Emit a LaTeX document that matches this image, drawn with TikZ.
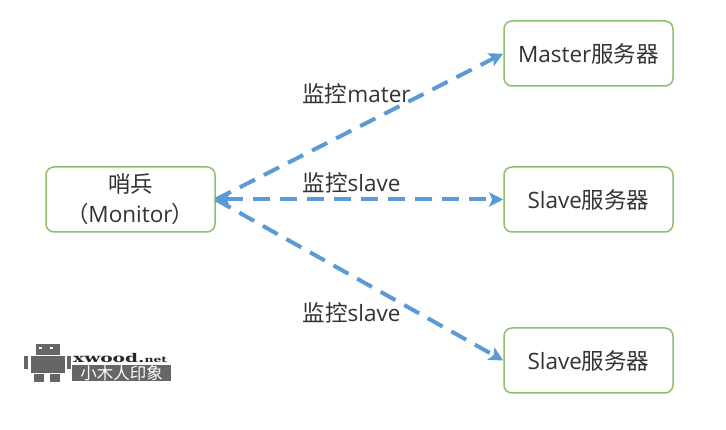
\documentclass[tikz,border=0pt]{standalone}
\usepackage{fontspec}
\setmainfont{Open Sans}
\newfontfamily\cjk{Noto Sans CJK SC}
\newfontfamily\logofont{DejaVu Serif}
\definecolor{boxgreen}{HTML}{8CC06E}
\definecolor{linkblue}{HTML}{5B9BD5}
\definecolor{ink}{HTML}{333333}
\definecolor{robot}{HTML}{666666}
\usetikzlibrary{arrows.meta}
\tikzset{
  server/.style={draw=boxgreen,line width=1.5pt,rounded corners=8pt,fill=white,minimum width=169pt,minimum height=65pt,inner sep=0pt,align=center,font=\fontsize{22.5}{30}\selectfont,text=ink},
  link/.style={draw=linkblue,line width=4pt,dash pattern=on 17pt off 10pt,-{Stealth[length=14pt,width=14pt,inset=3pt]}},
  tag/.style={inner sep=0pt,font=\fontsize{22.5}{26}\selectfont,text=ink},
  part/.style={fill=robot,draw=none}
}
\begin{document}
\begin{tikzpicture}[x=1pt,y=-1pt]
\useasboundingbox (0,0) rectangle (726,430);
\fill[white] (0,0) rectangle (726,430);
\node[server] (mon) at (130.5,199.5) {{\cjk 哨兵}\\[0pt]{\cjk （}\hspace{-1pt}Monitor\hspace{-1pt}{\cjk ）}};
\node[server] (master) at (588.5,53.5) {Master{\cjk 服务器}};
\node[server] (s1) at (588.5,199.5) {Slave{\cjk 服务器}};
\node[server] (s2) at (588.5,360.5) {Slave{\cjk 服务器}};
\draw[link] (mon.east) -- (master.west);
\draw[link,{Stealth[length=14pt,width=14pt,inset=3pt]}-{Stealth[length=14pt,width=14pt,inset=3pt]}] (mon.east) -- (s1.west);
\draw[link] (mon.east) -- (s2.west);
\node[tag] (t1) at (356.5,94) {{\cjk 监控}mater};
\node[tag] (t2) at (351.5,183) {{\cjk 监控}slave};
\node[tag] (t3) at (351.5,313) {{\cjk 监控}slave};
% logo
\fill[part] (36,344) rectangle (60,355);
\fill[white] (39,347) rectangle (42,349.5);
\fill[white] (50,347) rectangle (53,349.5);
\fill[part] (31,356) rectangle (65,373);
\fill[part] (24,356) rectangle (28,369);
\fill[part] (67,356) rectangle (71,369);
\fill[part] (34,374) rectangle (44,382);
\fill[part] (50,374) rectangle (60,382);
\node[inner sep=0pt,anchor=west,font=\logofont\bfseries\fontsize{12}{13}\selectfont,text=black!85] (lg1) at (73,358.5) {\scalebox{1.55}[1]{xwood.{\fontsize{8}{9}\selectfont net}}};
\node[fill=robot,text=white,anchor=west,minimum width=99pt,minimum height=16pt,inner sep=0pt,font=\cjk\fontsize{16.5}{17}\selectfont] (lg2) at (72,373) {小木人印象};
\end{tikzpicture}
\end{document}
